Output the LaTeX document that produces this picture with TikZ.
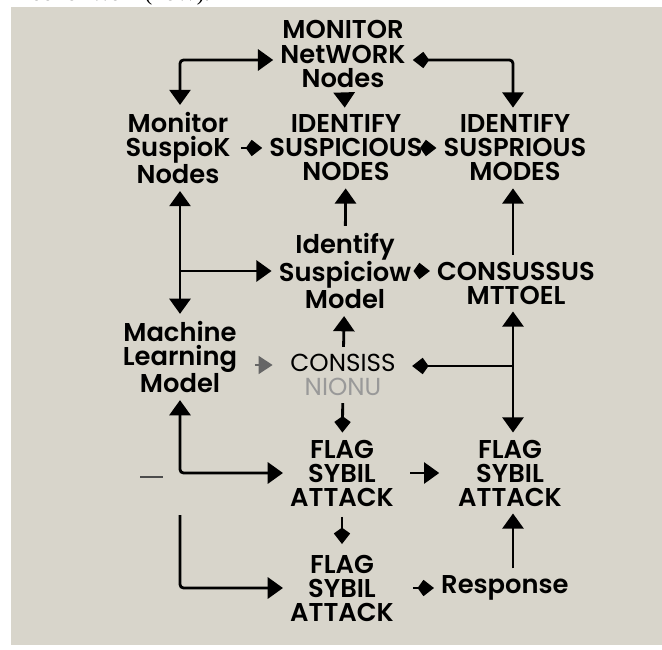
\documentclass[tikz,border=0pt]{standalone}
\usepackage{xcolor}
\usepackage{fontspec}
\setmainfont{Poppins}[BoldFont={Poppins SemiBold}]
\newfontfamily\capfont{Liberation Serif}
\usepackage{tikz}
\usetikzlibrary{arrows.meta}
\usetikzlibrary{calc}
\definecolor{panel}{RGB}{216,213,203}

\begin{document}
\begin{tikzpicture}[x=0.03cm,y=-0.03cm,line width=2.4pt]
\fill[white] (0,0) rectangle (662,650);
\useasboundingbox (0,0) rectangle (662,650);
\fill[panel] (11,7) rectangle (662,645);
\node[anchor=base west, inner sep=0, font=\capfont\fontsize{19}{20}\selectfont] (cap) at (10,1) {Proof of Work (PoW).};

\tikzset{>={Triangle[width=18pt,length=13pt]}, rounded corners=3pt}
\tikzstyle{lbl} = [align=center, inner sep=5pt,
	font=\bfseries\fontsize{22}{20.5}\selectfont];
\tikzstyle{kitearr} = [-{Kite[length=14pt,width=14pt,inset=5pt]}];

\node[lbl] (mnn) at (343,54) { MONITOR\\NetWORK\\Nodes };
\node[lbl] (msn) at (178,148) { Monitor\\SuspioK\\Nodes };
\node[lbl] (isn) at (346,148) { IDENTIFY\\SUSPICIOUS\\NODES };
\node[lbl] (isr) at (515,148) { IDENTIFY\\SUSPRIOUS\\MODES };
\node[lbl] (ism) at (345,271) { Identify\\Suspiciow\\Model };
\node[lbl] (csm) at (516,283) { CONSUSSUS\\MTTOEL };
\node[lbl] (mlm) at (180,357) { Machine\\Learning\\Model };
\node[lbl, font=\mdseries\fontsize{21}{20.5}\selectfont] (cns) at (343,375)
	{ CONSISS\\\textcolor{black!40}{NIONU} };
\node[lbl] (fsa1) at (342,473) { FLAG\\SYBIL\\ATTACK };
\node[lbl] (fsa2) at (510,473) { FLAG\\SYBIL\\ATTACK };
\node[lbl] (fsa3) at (342,588) { FLAG\\SYBIL\\ATTACK };
\node[lbl] (rsp) at (508,588) { Response };

\coordinate (rc) at (513,0);

\draw[<->] (mlm.north |- msn.north) |- ($(mnn.west)+(0,6)$);
\draw[{Kite[length=14pt,width=14pt,inset=5pt]}->] ($(mnn.east)+(0,6)$) -| (rc |- isr.north);
\draw[->] (mnn) -- (isn);

\draw[kitearr, shorten <=3pt] (msn) -- (isn);
\draw[kitearr] (isn) -- (isr);

\draw[<->] (mlm.north |- msn.south) -- (mlm.north);
\draw[->] (mlm.north |- ism.west) -- (ism.west);
\draw[->] (ism) -- (isn);
\draw[->] (rc |- csm.north) -- (rc |- isr.south);
\draw[kitearr] (ism.east) -- (ism.east -| csm.west);

\draw[->] (cns) -- (ism);
\draw[<->] (rc |- csm.south) -- (rc |- fsa2.north);
\draw[kitearr, shorten >=8pt] (rc |- 0,366) -- ($(cns.east)+(0,-9)$);
\draw[kitearr] (cns) -- (fsa1);
\draw[black!60, -{Triangle[width=15pt,length=12pt]}, shorten <=9pt, shorten >=9pt]
	($(mlm.east)+(0,8)$) -- ($(cns.west)+(0,-10)$);

\draw[<->] (mlm.south) |- (fsa1.west);
\draw[black!70, line width=1.5pt] (140,477) -- (163,477);
\draw[->, shorten <=8pt, shorten >=10pt] (fsa1) -- (fsa2);
\draw[kitearr, shorten <=3pt, shorten >=3pt] (fsa1) -- (fsa3);
\draw[->] (rc |- rsp.north) -- (rc |- fsa2.south);

\coordinate (lt) at (180,515);
\draw[->] (lt) |- (fsa3.west);
\draw[kitearr, shorten <=10pt] (fsa3) -- (rsp);

\end{tikzpicture}
\end{document}
